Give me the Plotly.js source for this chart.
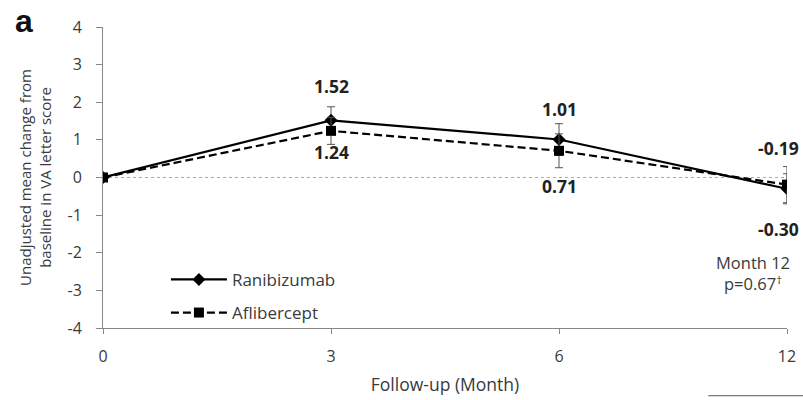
<!DOCTYPE html>
<html>
<head>
<meta charset="utf-8">
<script src="https://cdn.plot.ly/plotly-3.0.1.min.js"></script>
<style>html,body{margin:0;padding:0;background:#fff;}#chart{width:803px;height:400px;}</style>
</head>
<body>
<div id="chart"></div>
<script>
var months = ["0", "3", "6", "12"];
var ranibizumab = [0, 1.52, 1.01, -0.30];
var ranibizumabErr = [0, 0.36, 0.42, 0.40];
var aflibercept = [0, 1.24, 0.71, -0.19];
var afliberceptErr = [0, 0.36, 0.45, 0.48];
var ranibizumabLabels = ["", "1.52", "1.01", "-0.30"];
var afliberceptLabels = ["", "1.24", "0.71", "-0.19"];
var yTicks = [-4, -3, -2, -1, 0, 1, 2, 3, 4];
var yTickText = ["-4", "-3", "-2", "-1", "0", "1", "2", "3", "4"];

var FONT = "Open Sans, Liberation Sans, sans-serif";
var TXT = "#3a3a3a";

var traces = [
  {
    x: months, y: ranibizumab, name: "Ranibizumab", type: "scatter", mode: "lines+markers",
    legendgroup: "r",
    line: {color: "#000", width: 2.2},
    marker: {symbol: "diamond", size: 10, color: "#000"},
    error_y: {type: "data", array: ranibizumabErr, visible: true, color: "#555", thickness: 1, width: 4}
  },
  {
    x: months, y: aflibercept, name: "Aflibercept", type: "scatter", mode: "lines+markers",
    legendgroup: "a",
    line: {color: "#000", width: 2.2, dash: "8px,4px"},
    marker: {symbol: "square", size: 10, color: "#000"},
    error_y: {type: "data", array: afliberceptErr, visible: true, color: "#555", thickness: 1, width: 4}
  }
];

var ann = [];
var rShift = [0, 34, 31, -40];
var aShift = [0, -21, -35, 37];
var xs = [0, 0, 0, -9];
for (var i = 1; i < months.length; i++) {
  ann.push({x: i, y: ranibizumab[i], xref: "x", yref: "y", text: "<b>" + ranibizumabLabels[i] + "</b>",
    showarrow: false, yshift: rShift[i], xshift: xs[i], font: {family: FONT, size: 17.5, color: "#222"}});
  ann.push({x: i, y: aflibercept[i], xref: "x", yref: "y", text: "<b>" + afliberceptLabels[i] + "</b>",
    showarrow: false, yshift: aShift[i], xshift: xs[i], font: {family: FONT, size: 17.5, color: "#222"}});
}
ann.push({x: 3, y: -2, xref: "x", yref: "y", text: "Month 12<br>p=0.67<sup>†</sup>", showarrow: false,
  xshift: -34, yshift: -20, align: "center", font: {family: FONT, size: 16.5, color: TXT}});
ann.push({x: -0.132, y: 1.088, xref: "paper", yref: "paper", text: "<b>a</b>", showarrow: false,
  xanchor: "left", yanchor: "top", font: {family: "Liberation Sans, Arial, sans-serif", size: 32, color: "#111"}});

var layout = {
  width: 803, height: 400,
  margin: {l: 103, r: 16, t: 27, b: 72},
  paper_bgcolor: "#fff", plot_bgcolor: "#fff",
  showlegend: true,
  legend: {x: 0.092, y: 0.105, xanchor: "left", yanchor: "middle", bgcolor: "rgba(0,0,0,0)",
    itemwidth: 56, tracegroupgap: 8, traceorder: "grouped", font: {family: FONT, size: 17, color: TXT}},
  xaxis: {
    type: "category", range: [0, 3], autorange: false,
    showgrid: false, zeroline: false, showline: true, linecolor: "#888", linewidth: 1,
    ticks: "outside", ticklen: 5, tickcolor: "#888", ticklabelstandoff: 9,
    tickfont: {family: FONT, size: 16, color: TXT},
    title: {text: "Follow-up (Month)", font: {family: FONT, size: 17.5, color: TXT}, standoff: 12}
  },
  yaxis: {
    range: [-4, 4], autorange: false, tickvals: yTicks, ticktext: yTickText,
    showgrid: false, zeroline: false, showline: true, linecolor: "#888", linewidth: 1,
    ticks: "outside", ticklen: 6, tickcolor: "#888", ticklabelstandoff: 11,
    tickfont: {family: FONT, size: 16, color: TXT},
    title: {text: "Unadjusted mean change from<br>baseline in VA letter score", font: {family: FONT, size: 15, color: TXT}, standoff: 12}
  },
  shapes: [
    {type: "line", xref: "paper", yref: "y", x0: 0, x1: 1, y0: 0, y1: 0, layer: "below",
      line: {color: "#aaa", width: 1.2, dash: "dot"}},
    {type: "line", xref: "paper", yref: "paper", x0: 0.885, x1: 1.03, y0: -0.225, y1: -0.225,
      line: {color: "#555", width: 1}}
  ],
  annotations: ann
};

Plotly.newPlot("chart", traces, layout, {displayModeBar: false, staticPlot: true});
</script>
</body>
</html>
